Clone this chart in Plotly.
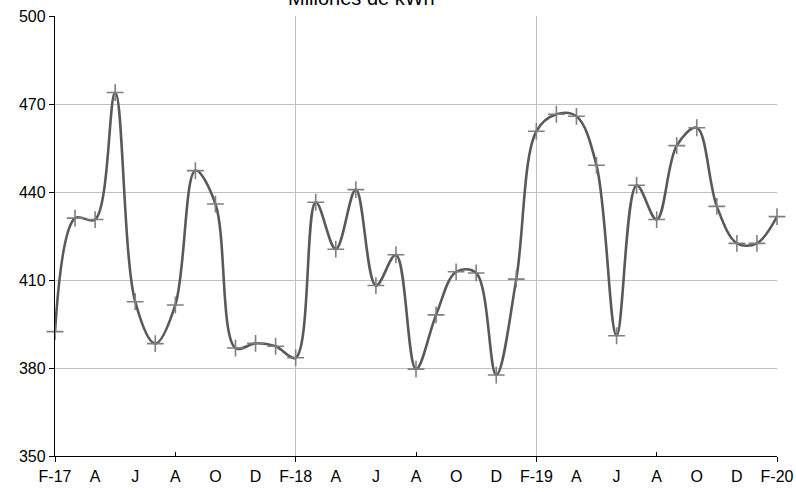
import plotly.graph_objects as go

# Monthly consumption, Feb-2017 .. Feb-2020 (millones de kWh)
months = ["F-17", "M-17", "A-17", "M-17", "J-17", "J-17", "A-17", "S-17", "O-17", "N-17", "D-17", "E-18",
          "F-18", "M-18", "A-18", "M-18", "J-18", "J-18", "A-18", "S-18", "O-18", "N-18", "D-18", "E-19",
          "F-19", "M-19", "A-19", "M-19", "J-19", "J-19", "A-19", "S-19", "O-19", "N-19", "D-19", "E-20",
          "F-20"]
values = [392.4, 431.1, 430.6, 473.9, 402.6, 388.3, 401.5, 447.3, 435.9, 386.8, 388.4, 387.4,
          383.5, 436.5, 420.5, 440.8, 408.1, 418.6, 379.6, 398.1, 412.8, 412.4, 377.6, 410.3,
          460.7, 466.5, 465.8, 449.1, 391.0, 442.3, 430.6, 455.8, 461.9, 435.1, 422.5, 422.5,
          431.6]
tick_labels = ["F-17", "A", "J", "A", "O", "D", "F-18", "A", "J", "A", "O", "D",
               "F-19", "A", "J", "A", "O", "D", "F-20"]
y_ticks = [350, 380, 410, 440, 470, 500]

x = list(range(len(values)))
label_pos = x[::2]
grid_pos = x[::12]
mid_pos = x[6::12]

fig = go.Figure()
fig.add_trace(go.Scatter(
    x=x, y=values, mode="lines+markers",
    line=dict(color="#595959", width=2.6, shape="spline", smoothing=1.0),
    marker=dict(symbol="cross-thin", size=12, color="#7f7f7f",
                line=dict(color="#7f7f7f", width=1.6)),
    cliponaxis=False, showlegend=False, hoverinfo="skip"))
fig.add_trace(go.Scatter(x=x, y=values, xaxis="x2", mode="lines",
                         line=dict(width=0), opacity=0, showlegend=False,
                         hoverinfo="skip"))

font = dict(family="Liberation Sans, Arial, sans-serif", size=16, color="#000000")

fig.update_layout(
    width=796, height=492,
    margin=dict(l=55, r=19, t=16, b=36, autoexpand=False),
    paper_bgcolor="white", plot_bgcolor="white",
    font=font,
    xaxis=dict(range=[0, len(values) - 1], tickmode="array", tickvals=grid_pos,
               showticklabels=False, ticks="outside", ticklen=5, tickwidth=1.3,
               tickcolor="#000000", showgrid=True, gridcolor="#c0c0c0", gridwidth=1.3,
               showline=True, linecolor="#000000", linewidth=1.3, zeroline=False,
               automargin=False,
               minor=dict(tickmode="array", tickvals=mid_pos, ticks="inside",
                          ticklen=4, tickwidth=1.3, tickcolor="#000000", showgrid=False)),
    xaxis2=dict(range=[0, len(values) - 1], overlaying="x", anchor="y", side="bottom",
                tickmode="array", tickvals=label_pos, ticktext=tick_labels,
                ticks="outside", ticklen=6, tickcolor="rgba(0,0,0,0)",
                showgrid=False, zeroline=False, showline=False, tickfont=font,
                automargin=False),
    yaxis=dict(range=[350, 500], tickmode="array", tickvals=y_ticks,
               ticks="outside", ticklen=5, tickwidth=1.3, tickcolor="#000000",
               showgrid=True, gridcolor="#c0c0c0", gridwidth=1.3,
               showline=True, linecolor="#000000", linewidth=1.3, zeroline=False,
               tickfont=font, automargin=False),
    annotations=[dict(text="Millones de kWh", xref="paper", yref="paper",
                      x=0.425, y=1.0, xanchor="center", yanchor="bottom", yshift=5,
                      showarrow=False, font=dict(family=font["family"], size=20,
                                                 color="#000000"))],
)

fig.write_html("out.html", config={"displayModeBar": False},
               post_script="document.body.style.margin='0';document.body.style.padding='0';")
